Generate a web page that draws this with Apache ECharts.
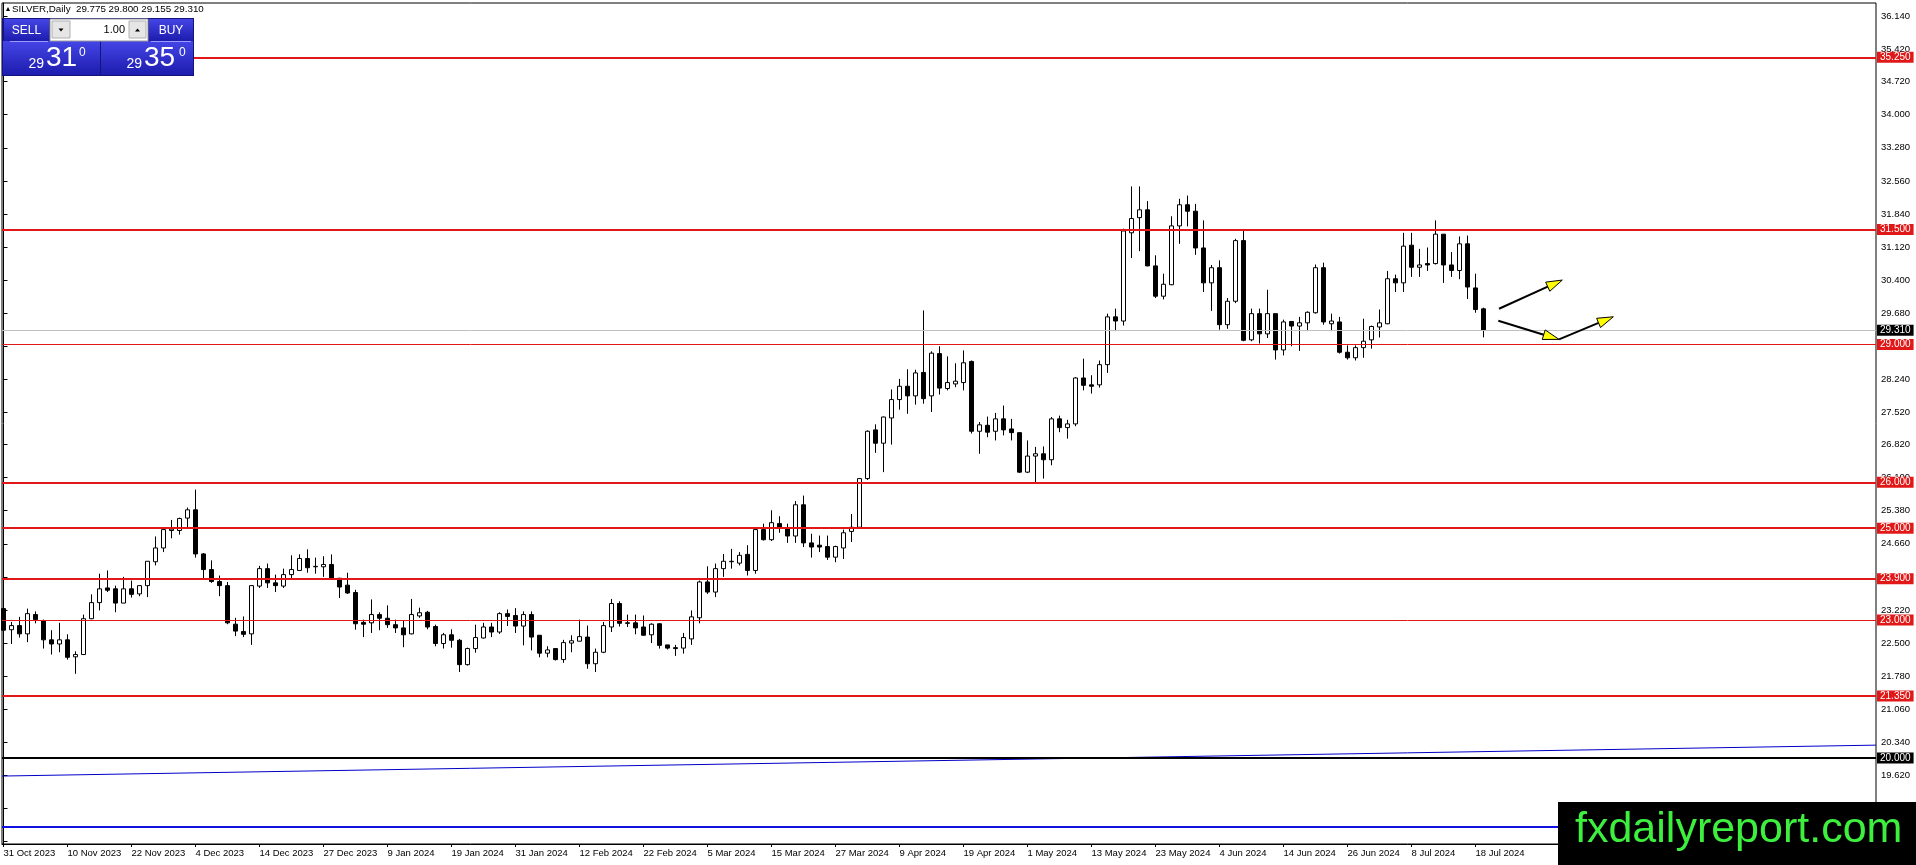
<!DOCTYPE html>
<html><head><meta charset="utf-8">
<script src="https://cdn.jsdelivr.net/npm/echarts@6/dist/echarts.min.js"></script>
<style>html,body{margin:0;padding:0;background:#fff;overflow:hidden}#c{width:1916px;height:865px}</style>
</head><body><div id="c"></div>
<script>
// ---- data (SILVER Daily, 31 Oct 2023 .. 19 Jul 2024) ----
const open = [23.25,22.79,22.88,22.70,23.12,22.98,22.57,22.48,22.57,22.20,
22.25,23.03,23.38,23.70,23.68,23.37,23.68,23.57,23.75,24.27,
24.57,24.95,24.95,25.22,25.40,24.44,24.10,23.84,23.75,22.91,
22.75,22.70,23.74,24.12,23.81,23.74,23.99,24.08,24.34,24.16,
24.16,24.21,23.91,23.76,23.60,22.95,22.94,23.12,23.04,22.90,
22.83,22.70,23.09,23.17,22.86,22.49,22.68,22.56,22.03,22.38,
22.61,22.85,22.74,23.14,23.10,22.87,23.12,22.67,22.28,22.38,
22.14,22.50,22.54,22.63,22.05,22.30,22.85,23.36,22.94,22.94,
22.85,22.68,22.92,22.46,22.40,22.39,22.59,23.05,23.83,23.61,
24.12,24.27,24.24,24.43,24.08,24.97,24.75,25.10,24.99,24.83,
25.51,24.68,24.63,24.60,24.37,24.57,24.93,25.02,26.08,27.14,
26.85,27.40,27.80,28.09,27.88,28.39,27.88,28.80,28.04,28.14,
28.17,28.63,27.11,27.24,27.11,27.38,27.16,27.08,26.22,26.57,
26.62,26.49,27.38,27.19,27.27,28.27,28.12,28.12,28.56,29.60,
29.51,31.43,31.76,31.93,30.71,30.05,30.30,31.58,32.04,31.90,
31.10,30.34,30.67,29.43,29.94,31.26,29.10,29.67,29.23,29.67,
28.88,29.50,29.40,29.47,29.69,30.67,29.45,29.49,28.83,28.71,
28.93,29.10,29.38,29.45,30.43,30.34,31.16,30.68,30.76,30.76,
31.40,30.73,30.61,31.19,30.23,29.775];
const high = [23.26,22.96,23.07,23.25,23.19,23.01,22.78,22.94,22.69,22.32,
23.12,23.56,24.01,24.08,23.75,23.94,23.86,23.75,24.28,24.82,
24.97,25.18,25.23,25.45,25.84,24.46,24.30,23.97,23.83,23.05,
23.08,23.76,24.18,24.23,23.99,24.12,24.41,24.43,24.54,24.36,
24.39,24.43,23.92,24.03,23.66,23.01,23.45,23.17,23.32,23.01,
22.99,23.46,23.27,23.20,22.90,22.72,22.80,22.59,22.40,22.90,
22.94,22.94,23.17,23.23,23.26,23.19,23.19,22.67,22.43,22.39,
22.57,22.67,23.01,22.88,22.38,22.96,23.46,23.41,23.12,23.12,
23.10,22.93,22.93,22.46,22.46,22.72,23.21,23.86,24.17,24.23,
24.44,24.55,24.48,24.63,25.02,25.10,25.39,25.26,25.10,25.59,
25.71,24.88,24.84,24.84,24.62,24.97,25.31,26.09,27.13,27.26,
27.43,28.02,28.25,28.46,28.45,29.74,28.85,28.96,28.74,28.59,
28.87,28.65,27.31,27.43,27.51,27.67,27.38,27.09,26.91,26.77,
26.78,27.42,27.45,27.36,28.29,28.69,28.33,28.65,29.67,29.78,
31.52,32.44,32.44,32.12,30.94,30.54,31.79,32.17,32.24,32.06,
31.70,30.73,30.83,30.01,31.30,31.47,29.78,29.78,30.19,29.67,
29.54,29.50,29.60,29.72,30.74,30.78,29.67,29.60,28.98,28.98,
29.56,29.41,29.76,30.60,30.52,31.43,31.43,31.08,31.11,31.70,
31.40,31.01,31.35,31.37,30.54,29.80];
const low = [22.70,22.48,22.62,22.52,22.93,22.38,22.25,22.30,22.14,21.83,
22.24,23.02,23.21,23.61,23.17,23.37,23.49,23.52,23.50,24.19,
24.48,24.78,24.86,25.02,24.36,23.89,23.81,23.52,22.91,22.65,
22.63,22.46,23.70,23.70,23.61,23.70,23.90,24.07,24.03,24.01,
23.94,23.90,23.48,23.57,22.79,22.63,22.72,22.78,22.83,22.72,
22.41,22.69,23.05,22.80,22.43,22.38,22.40,21.87,22.01,22.29,
22.60,22.63,22.70,22.87,22.72,22.45,22.34,22.19,22.19,22.12,
22.07,22.30,22.54,21.94,21.87,22.28,22.74,22.86,22.85,22.69,
22.66,22.50,22.38,22.36,22.22,22.27,22.46,22.93,23.57,23.50,
23.94,24.12,24.19,23.97,24.01,24.73,24.72,24.90,24.68,24.68,
24.59,24.36,24.48,24.31,24.26,24.33,24.70,25.01,26.05,26.64,
26.22,26.82,27.58,27.49,27.69,27.71,27.53,27.91,28.00,28.07,
28.00,27.06,26.62,26.98,26.91,27.02,26.91,26.20,26.20,25.97,
26.08,26.37,27.09,26.95,27.22,28.00,27.93,28.06,28.38,29.29,
29.41,30.88,31.03,30.70,30.01,29.98,30.29,31.19,31.57,30.95,
30.14,29.73,29.32,29.34,29.90,29.07,29.07,29.02,29.14,28.67,
28.76,28.96,28.86,29.29,29.67,29.43,29.29,28.80,28.67,28.65,
28.71,28.91,29.15,29.44,30.14,30.14,30.47,30.47,30.60,30.74,
30.34,30.47,30.42,29.99,29.69,29.155];
const close = [22.78,22.88,22.70,23.14,23.01,22.57,22.48,22.57,22.19,22.25,
23.03,23.38,23.68,23.65,23.37,23.68,23.56,23.75,24.28,24.57,
24.97,24.98,25.21,25.40,24.44,24.10,23.84,23.75,22.94,22.76,
22.69,23.75,24.12,23.81,23.75,23.99,24.10,24.34,24.14,24.17,
24.21,23.91,23.72,23.59,22.92,22.91,23.12,23.04,22.90,22.83,
22.68,23.12,23.16,22.85,22.49,22.68,22.56,22.03,22.38,22.62,
22.85,22.74,23.14,23.08,22.87,23.12,22.63,22.28,22.35,22.14,
22.51,22.55,22.64,22.05,22.30,22.88,23.36,22.93,22.93,22.83,
22.67,22.91,22.45,22.39,22.38,22.62,23.07,23.83,23.61,24.12,
24.28,24.28,24.41,24.08,24.97,24.75,25.12,25.01,24.83,25.51,
24.68,24.59,24.59,24.37,24.60,24.90,25.02,26.08,27.11,26.85,
27.42,27.80,28.09,27.88,28.38,27.82,28.81,28.05,28.17,28.20,
28.60,27.11,27.25,27.09,27.38,27.14,27.08,26.22,26.57,26.62,
26.49,27.38,27.19,27.27,28.27,28.11,28.09,28.56,29.60,29.51,
31.47,31.74,31.93,30.71,30.05,30.31,31.58,32.04,31.90,31.10,
30.34,30.67,29.43,29.94,31.26,29.09,29.67,29.23,29.67,28.88,
29.49,29.40,29.47,29.70,30.67,29.49,29.51,28.83,28.71,28.93,
29.07,29.39,29.47,30.43,30.34,31.14,30.68,30.73,30.73,31.40,
30.73,30.61,31.19,30.25,29.76,29.31];

const xLabels = ['31 Oct 2023','10 Nov 2023','22 Nov 2023','4 Dec 2023','14 Dec 2023','27 Dec 2023',
'9 Jan 2024','19 Jan 2024','31 Jan 2024','12 Feb 2024','22 Feb 2024','5 Mar 2024','15 Mar 2024',
'27 Mar 2024','9 Apr 2024','19 Apr 2024','1 May 2024','13 May 2024','23 May 2024','4 Jun 2024',
'14 Jun 2024','26 Jun 2024','8 Jul 2024','18 Jul 2024'];
const barsPerLabel = 8;
const yTicks = [36.14,35.42,34.72,34.00,33.28,32.56,31.84,31.12,30.40,29.68,28.96,28.24,27.52,
26.82,26.10,25.38,24.66,23.94,23.22,22.50,21.78,21.06,20.34,19.62,18.90,18.18];

const redLevels = [35.25, 31.5, 29.0, 26.0, 25.0, 23.9, 23.0, 21.35];
const thinRedLevels = [29.0, 23.0];
const blackLevel = 20.0;
const blueLevel = 18.5;
const trendStart = [-0.1875, 19.605];
const trendEnd = [234.0625, 20.278];
const arrowFrom = [[186.94, 29.776], [186.85, 29.515], [194.44, 29.110]];
const arrowTo   = [[194.85, 30.401], [194.44, 29.110], [201.23, 29.602]];
const bid = 29.310, ask = 29.350, lots = 1.00;
const symbolName = 'SILVER,Daily';

// ---- chart ----
const RED = '#e01818';
const FONT = '"Liberation Sans", Arial, sans-serif';
const last = close.length - 1;
const candles = open.map((o, i) => [i, o, close[i], low[i], high[i]]);
const labelVals = xLabels.map((_, k) => k * barsPerLabel);

function fitFont(text, targetWidth, baseSize) {
  const ctx = document.createElement('canvas').getContext('2d');
  ctx.font = baseSize + 'px ' + FONT;
  const w = ctx.measureText(text).width;
  return Math.min(baseSize, baseSize * targetWidth / w);
}
function T(x, y, text, font, fill, align, valign) {
  return { type: 'text', z: 101, style: { x, y, text, font, fill,
    align: align, verticalAlign: valign, textAlign: align, textVerticalAlign: valign } };
}
function R(x, y, w, h, fill, stroke, lw) {
  return { type: 'rect', z: 100, shape: { x, y, width: w, height: h },
    style: { fill, stroke: stroke || null, lineWidth: lw || 0 } };
}
function P(points, fill) {
  return { type: 'polygon', z: 101, shape: { points }, style: { fill } };
}
const blueGrad = { type: 'linear', x: 0, y: 0, x2: 0, y2: 1,
  colorStops: [{ offset: 0, color: '#4545e6' }, { offset: 1, color: '#1c1cae' }] };
function priceParts(v) { const s = v.toFixed(3); return [s.slice(0, 2), s.slice(3, 5), s.slice(5)]; }
const bp = priceParts(bid), ap = priceParts(ask);
const headerText = symbolName + '  ' + [open[last], high[last], low[last], close[last]].map(v => v.toFixed(3)).join(' ');
const headerSize = fitFont(headerText, 192, 11);

const graphics = [
  P([[6, 11], [10, 11], [8, 7]], '#000'),
  T(12, 9, headerText, headerSize.toFixed(2) + 'px ' + FONT, '#000', 'left', 'middle'),
  // one-click panel
  R(2, 18, 192, 58, '#14147a'),
  R(4, 19, 45, 22, blueGrad),
  R(3, 41, 97, 34, blueGrad),
  R(149, 19, 44, 22, blueGrad),
  R(101, 41, 92, 34, blueGrad),
  R(50, 19, 98, 22, '#ffffff', '#9a9a9a', 1),
  R(52, 21, 18, 17, '#e6e6e6', '#b0b0b0', 1),
  R(129, 21, 17, 17, '#e6e6e6', '#b0b0b0', 1),
  P([[58.5, 28.5], [63.5, 28.5], [61, 31.5]], '#000'),
  P([[135, 31.5], [140, 31.5], [137.5, 28.5]], '#000'),
  R(10, 41, 38, 1, '#9a9aff'),
  R(151, 41, 40, 1, '#9a9aff'),
  T(26.5, 31, 'SELL', '12px ' + FONT, '#fff', 'center', 'middle'),
  T(171, 31, 'BUY', '12px ' + FONT, '#fff', 'center', 'middle'),
  T(125, 30, lots.toFixed(2), '11px ' + FONT, '#000', 'right', 'middle'),
  T(44, 64, bp[0], '14px ' + FONT, '#fff', 'right', 'middle'),
  T(46, 58, bp[1], '28px ' + FONT, '#fff', 'left', 'middle'),
  T(79, 53, bp[2], '12px ' + FONT, '#fff', 'left', 'middle'),
  T(142, 64, ap[0], '14px ' + FONT, '#fff', 'right', 'middle'),
  T(144, 58, ap[1], '28px ' + FONT, '#fff', 'left', 'middle'),
  T(179, 53, ap[2], '12px ' + FONT, '#fff', 'left', 'middle'),
  // watermark
  R(1558, 802, 358, 63, '#000000'),
  T(1575, 830, 'fxdailyreport.com', '43px ' + FONT, '#3ef03e', 'left', 'middle')
];

function lvlLabel(bg) {
  return { show: true, position: 'end', distance: 1, formatter: p => Number(p.value).toFixed(3),
    color: '#fff', backgroundColor: bg, padding: [1, 3, 0, 3], fontSize: 10, fontFamily: FONT, lineHeight: 10 };
}

const option = {
  animation: false,
  backgroundColor: '#ffffff',
  grid: { left: 2, top: 3, width: 1874, height: 841, show: true, borderColor: '#000', borderWidth: 1, backgroundColor: '#fff' },
  xAxis: {
    type: 'value', min: -0.1875, max: 234.0625,
    axisLine: { show: true, lineStyle: { color: '#000', width: 1 } },
    axisTick: { show: true, customValues: labelVals, length: 3, lineStyle: { color: '#000' } },
    axisLabel: { customValues: labelVals, formatter: v => xLabels[Math.round(v / barsPerLabel)] || '',
      align: 'left', margin: 4, color: '#000', fontSize: 9.5, fontFamily: FONT },
    splitLine: { show: false }
  },
  yAxis: {
    type: 'value', position: 'right', min: 18.126, max: 36.432, scale: true,
    axisLine: { show: true, lineStyle: { color: '#000', width: 1 } },
    axisTick: { show: true, customValues: yTicks, length: 4, lineStyle: { color: '#000' } },
    axisLabel: { customValues: yTicks, formatter: v => Number(v).toFixed(3), margin: 5,
      color: '#000', fontSize: 9.5, fontFamily: FONT },
    splitLine: { show: false }
  },
  graphic: graphics,
  series: [
    {
      type: 'line', data: [trendStart, trendEnd], showSymbol: false, silent: true, z: 1,
      lineStyle: { color: '#0000c8', width: 1 }
    },
    {
      type: 'line', data: [], silent: true, z: 2,
      markLine: {
        silent: true, symbol: ['none', 'none'], animation: false,
        data: [
          { yAxis: close[last], lineStyle: { color: '#c0c0c0', width: 1, type: 'solid' }, label: lvlLabel('#000') },
          { yAxis: blackLevel, lineStyle: { color: '#000', width: 2, type: 'solid' }, label: lvlLabel('#000') },
          { yAxis: blueLevel, lineStyle: { color: '#1010e0', width: 2, type: 'solid' }, label: { show: false } }
        ]
      }
    },
    {
      type: 'candlestick', data: candles, barWidth: 5, z: 3, silent: true,
      itemStyle: { color: '#ffffff', color0: '#000000', borderColor: '#000000', borderColor0: '#000000', borderWidth: 1 }
    },
    {
      type: 'line', data: [], silent: true, z: 4,
      markLine: {
        silent: true, symbol: ['none', 'none'], animation: false,
        data: redLevels.map(v => ({ yAxis: v,
          lineStyle: { color: RED, width: thinRedLevels.includes(v) ? 1 : 2, type: 'solid' },
          label: lvlLabel(RED) }))
      }
    },
    {
      type: 'custom', z: 5, silent: true,
      data: arrowFrom.map((a, k) => [a[0], a[1], arrowTo[k][0], arrowTo[k][1]]),
      renderItem: (params, api) => {
        const a = api.coord([api.value(0), api.value(1)]);
        const b = api.coord([api.value(2), api.value(3)]);
        const dx = b[0] - a[0], dy = b[1] - a[1];
        const len = Math.hypot(dx, dy), ux = dx / len, uy = dy / len;
        const hl = 16, hw = 5;
        const base = [b[0] - ux * hl, b[1] - uy * hl];
        const p1 = [base[0] - uy * hw, base[1] + ux * hw];
        const p2 = [base[0] + uy * hw, base[1] - ux * hw];
        return { type: 'group', children: [
          { type: 'line', shape: { x1: a[0], y1: a[1], x2: base[0], y2: base[1] }, style: { stroke: '#000', lineWidth: 2 } },
          { type: 'polygon', shape: { points: [b, p1, p2] }, style: { fill: '#ffff00', stroke: '#000', lineWidth: 1 } }
        ] };
      }
    }
  ]
};
const chart = echarts.init(document.getElementById('c'));
chart.setOption(option);
</script>
</body></html>
